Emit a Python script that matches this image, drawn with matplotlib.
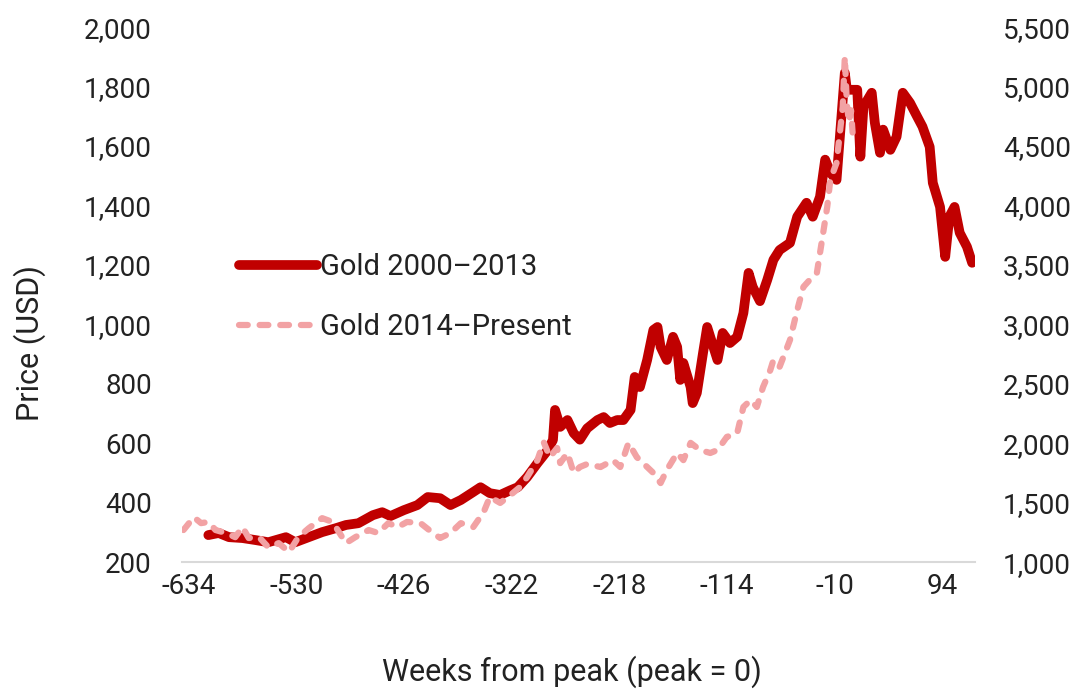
import matplotlib
matplotlib.use("Agg")
from matplotlib import pyplot as plt
from matplotlib.ticker import FuncFormatter

# Gold 2000-2013 (left axis, USD), weeks from peak
weeks_a = [-615, -605, -595, -582, -569, -557, -550, -540, -531, -518, -505, -492,
           -482, -470, -456, -447, -439, -426, -413, -403, -391, -381, -371, -359,
           -352, -343, -333, -323, -316, -307, -297, -287, -282, -280, -275, -268,
           -262, -256, -249, -239, -233, -227, -220, -214, -207, -203, -198, -191,
           -185, -181, -178, -172, -166, -162, -159, -156, -149, -147, -143, -137,
           -133, -127, -123, -118, -111, -104, -98, -93, -89, -82, -75, -69,
           -63, -53, -46, -37, -31, -24, -19, -14, -8, 0, 2, 12,
           15, 18, 26, 29, 34, 37, 44, 50, 56, 63, 70, 75,
           82, 85, 92, 97, 101, 106, 111, 118, 123]
gold_a = [291, 298, 284, 281, 274, 267, 274, 284, 267, 284, 301, 314,
          325, 331, 358, 368, 355, 375, 392, 419, 415, 392, 409, 436,
          452, 432, 426, 442, 452, 486, 533, 577, 611, 712, 655, 678,
          634, 612, 650, 678, 688, 668, 678, 678, 712, 823, 789, 880,
          981, 991, 924, 880, 958, 924, 813, 870, 789, 735, 769, 904,
          991, 924, 880, 971, 937, 958, 1038, 1173, 1126, 1078, 1149, 1217,
          1250, 1274, 1362, 1409, 1362, 1429, 1554, 1510, 1486, 1846, 1789, 1789,
          1564, 1732, 1779, 1678, 1577, 1655, 1587, 1631, 1779, 1745, 1698, 1665,
          1597, 1476, 1395, 1227, 1362, 1395, 1308, 1261, 1207]

# Gold 2014-Present (right axis, USD)
weeks_b = [-639, -629, -622, -615, -608, -598, -589, -582, -576, -566, -557, -547,
           -537, -528, -518, -505, -495, -482, -473, -460, -451, -441, -432, -423,
           -410, -398, -391, -381, -371, -359, -349, -343, -333, -323, -314, -307,
           -297, -291, -285, -278, -275, -268, -262, -256, -249, -236, -224, -217,
           -209, -201, -191, -185, -178, -172, -162, -156, -149, -140, -130, -123,
           -114, -104, -98, -91, -85, -79, -72, -69, -63, -53, -46, -40,
           -34, -27, -22, -17, -14, -8, -2, 0, 2, 4, 6, 8]
gold_b = [1270, 1378, 1328, 1338, 1270, 1245, 1210, 1295, 1203, 1210, 1125, 1160,
          1085, 1210, 1285, 1370, 1338, 1160, 1210, 1270, 1245, 1328, 1295, 1338,
          1328, 1245, 1203, 1245, 1328, 1295, 1420, 1548, 1498, 1565, 1630, 1715,
          1858, 2010, 1883, 1960, 1833, 1918, 1750, 1800, 1825, 1800, 1858, 1800,
          2003, 1883, 1800, 1750, 1665, 1775, 1918, 1858, 2003, 1943, 1918, 1943,
          2053, 2085, 2305, 2363, 2305, 2473, 2615, 2700, 2643, 2868, 3120, 3315,
          3373, 3433, 3710, 3988, 4215, 4358, 4830, 5250, 4850, 4700, 4800, 4550]

x_ticks = [-634, -530, -426, -322, -218, -114, -10, 94]

txt = "#222222"
plt.rcParams["font.family"] = ["Roboto", "DejaVu Sans"]
plt.rcParams["axes.unicode_minus"] = False

fig = plt.figure(figsize=(10.86, 6.94), dpi=100)
ax = fig.add_axes([0.168, 0.190, 0.730, 0.771])
ax2 = ax.twinx()

ax.plot(weeks_a, gold_a, color="#C00000", lw=7, solid_joinstyle="round",
        solid_capstyle="round", label="Gold 2000\u20132013", zorder=2)
ax2.plot(weeks_b, gold_b, color="#F2A2A4", lw=4.5, linestyle=(0, (1.4, 1.9)),
         dash_capstyle="round", label="Gold 2014\u2013Present", zorder=3)

ax.set_xlim(-640, 126)
ax.set_ylim(200, 2000)
ax2.set_ylim(1000, 5500)
ax.set_yticks(range(200, 2001, 200))
ax2.set_yticks(range(1000, 5501, 500))
ax.set_xticks(x_ticks)

fmt = FuncFormatter(lambda v, p: f"{int(v):,}")
ax.yaxis.set_major_formatter(fmt)
ax2.yaxis.set_major_formatter(fmt)

for a in (ax, ax2):
    for s in a.spines.values():
        s.set_visible(False)
    a.tick_params(length=0, labelsize=20, colors=txt)
ax.spines["bottom"].set_visible(True)
ax.spines["bottom"].set_color("#D9D9D9")
ax.spines["bottom"].set_linewidth(1.5)
ax.tick_params(axis="y", pad=22)
ax2.tick_params(axis="y", pad=20)
ax.tick_params(axis="x", pad=8)

fig.text(0.027, 1 - 343 / 694, "Price (USD)", rotation=90, ha="center",
         va="center", fontsize=22, color=txt)
fig.text(572 / 1086, 1 - 672 / 694, "Weeks from peak (peak = 0)", ha="center",
         va="center", fontsize=22, color=txt)

h1, l1 = ax.get_legend_handles_labels()
h2, l2 = ax2.get_legend_handles_labels()
ax2.legend(h1 + h2, l1 + l2, loc="upper left", bbox_to_anchor=(0.071, 0.577),
           frameon=False, fontsize=21, handlelength=2.7, handletextpad=0.1,
           labelspacing=1.1, borderpad=0, borderaxespad=0, labelcolor=txt)

fig.savefig("out.png", dpi=100, facecolor="white")
